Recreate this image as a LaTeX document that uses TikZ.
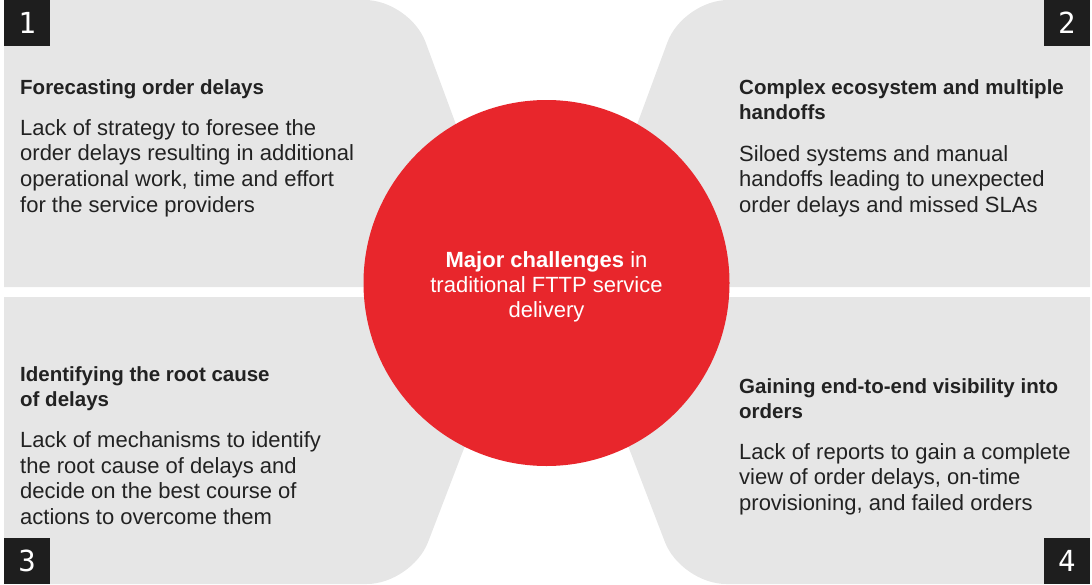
\documentclass[tikz,border=0pt]{standalone}
\usepackage{fontspec}
\setmainfont{Liberation Sans}
\newfontfamily\numfont{DejaVu Sans Mono}
\usetikzlibrary{positioning}

\definecolor{panelgray}{HTML}{E6E6E6}
\definecolor{hubred}{HTML}{E8262C}
\definecolor{tagblack}{HTML}{1E1E1E}
\definecolor{inkdark}{HTML}{222222}

\tikzset{
  panel/.style={fill=panelgray},
  tag/.style={fill=tagblack, text=white, minimum size=46pt, inner sep=0pt,
    font=\numfont\fontsize{29}{29}\selectfont},
  head/.style={anchor=north west, inner sep=0pt, align=left, text=inkdark,
    font=\bfseries\fontsize{20.5}{25.3}\selectfont},
  body/.style={anchor=north west, inner sep=0pt, align=left, text=inkdark,
    font=\fontsize{22}{25.6}\selectfont},
}

\begin{document}
\begin{tikzpicture}[x=1pt, y=-1pt]

\useasboundingbox (0,0) rectangle (1092,584);

% four panels, slanted towards the hub
\fill[panel] (4,287) -- (4,0) [rounded corners=45pt] -- (410,0) -- (516,287) [sharp corners] -- cycle;
\fill[panel] (1090,287) -- (1090,0) [rounded corners=45pt] -- (683,0) -- (577,287) [sharp corners] -- cycle;
\fill[panel] (4,297) -- (4,584) [rounded corners=45pt] -- (412,584) -- (522,297) [sharp corners] -- cycle;
\fill[panel] (1090,297) -- (1090,584) [rounded corners=45pt] -- (681,584) -- (571,297) [sharp corners] -- cycle;

% hub
\node[circle, fill=hubred, minimum size=366pt, inner sep=0pt] (hub) at (546.5,283) {};
\node[align=center, text=white, inner sep=0pt, anchor=north, font=\fontsize{22}{25}\selectfont] (hubtext) at (546.5,251)
  {\textbf{Major challenges} in\\traditional FTTP service\\delivery};

% corner tags
\node[tag, anchor=north west] (tag1) at (4,0) {1};
\node[tag, anchor=north east] (tag2) at (1090,0) {2};
\node[tag, anchor=south west] (tag3) at (4,584) {3};
\node[tag, anchor=south east] (tag4) at (1090,584) {4};

% panel 1
\node[head] (head1) at (20,79.3) {Forecasting order delays};
\node[body] (body1) at (20,119.2)
  {Lack of strategy to foresee the\\order delays resulting in additional\\operational work, time and effort\\for the service providers};

% panel 2
\node[head] (head2) at (739,79.3) {Complex ecosystem and multiple\\handoffs};
\node[body] (body2) at (739,144.9)
  {Siloed systems and manual\\handoffs leading to unexpected\\order delays and missed SLAs};

% panel 3
\node[head] (head3) at (20,366) {Identifying the root cause\\of delays};
\node[body] (body3) at (20,431.5)
  {Lack of mechanisms to identify\\the root cause of delays and\\decide on the best course of\\actions to overcome them};

% panel 4
\node[head] (head4) at (739,378.6) {Gaining end-to-end visibility into\\orders};
\node[body] (body4) at (739,443.2)
  {Lack of reports to gain a complete\\view of order delays, on-time\\provisioning, and failed orders};

\end{tikzpicture}
\end{document}
